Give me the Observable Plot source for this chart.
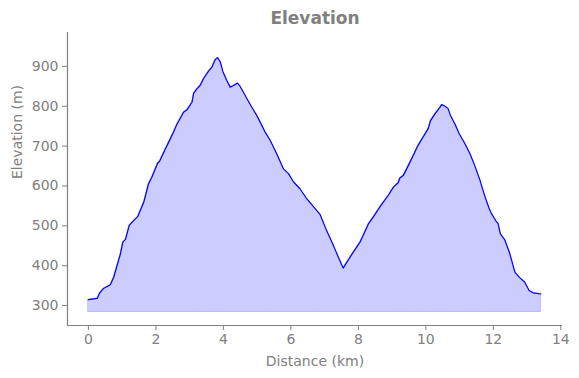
<!DOCTYPE html>
<html>
<head>
<meta charset="utf-8">
<script src="https://cdn.jsdelivr.net/npm/d3@7"></script>
<script src="https://cdn.jsdelivr.net/npm/@observablehq/plot@0.6"></script>
<style>
  html, body { margin: 0; padding: 0; background: #fff; }
  #chart svg { display: block; }
</style>
</head>
<body>
<div id="chart"></div>
<script>
const titleText = "Elevation";
const xLabel = "Distance (km)";
const yLabel = "Elevation (m)";
const xTicks = [0, 2, 4, 6, 8, 10, 12, 14];
const yTicks = [300, 400, 500, 600, 700, 800, 900];
const baseline = 284;

const distanceKm = [
  0, 0.26, 0.33, 0.45, 0.65, 0.75, 0.95, 1.02, 1.1, 1.21, 1.34, 1.46, 1.64, 1.78, 1.88,
  2.05, 2.11, 2.28, 2.38, 2.52, 2.62, 2.82, 2.92, 3.07, 3.12, 3.22, 3.31, 3.41, 3.56, 3.66,
  3.76, 3.83, 3.91, 3.99, 4.1, 4.2, 4.3, 4.42, 4.48, 4.55, 4.7, 4.84, 4.99, 5.07, 5.24,
  5.39, 5.58, 5.78, 5.93, 6.08, 6.27, 6.47, 6.72, 6.87, 7.06, 7.26, 7.41, 7.55, 7.66, 7.85,
  8.05, 8.3, 8.44, 8.66, 8.9, 9.04, 9.18, 9.23, 9.33, 9.48, 9.63, 9.77, 9.92, 10.07, 10.14,
  10.27, 10.4, 10.47, 10.57, 10.66, 10.73, 10.86, 10.99, 11.16, 11.31, 11.45, 11.6, 11.75, 11.88, 11.95,
  12.08, 12.14, 12.21, 12.34, 12.49, 12.64, 12.78, 12.93, 13.06, 13.18, 13.41
];
const elevationM = [
  315, 318, 331, 343, 352, 371, 430, 459, 466, 501, 513, 523, 559, 605, 622,
  657, 662, 693, 710, 735, 754, 785, 791, 810, 833, 844, 852, 869, 888, 898,
  917, 922, 911, 886, 865, 848, 852, 858, 852, 842, 819, 798, 777, 764, 735,
  714, 681, 643, 631, 610, 593, 568, 543, 528, 488, 451, 421, 394, 409, 434,
  459, 505, 522, 550, 578, 597, 608, 620, 626, 651, 677, 702, 723, 744, 764,
  781, 795, 804, 800, 794, 777, 756, 731, 706, 681, 651, 616, 574, 543, 530,
  512, 506, 480, 465, 430, 384, 370, 359, 338, 332, 329
];

const data = distanceKm.map((d, i) => ({ d, e: elevationM[i] }));
const gray = "#808080";
const font = "DejaVu Sans, sans-serif";

const chart = Plot.plot({
  width: 579,
  height: 378,
  marginLeft: 67,
  marginRight: 17,
  marginTop: 32,
  marginBottom: 53,
  style: { fontFamily: font, fontSize: "14px", color: gray, background: "#fff" },
  x: { domain: [-0.62, 14.05] },
  y: { domain: [250, 985] },
  marks: [
    Plot.areaY(data, { x: "d", y1: baseline, y2: "e", fill: "blue", fillOpacity: 0.2, stroke: "blue", strokeOpacity: 0.2, strokeWidth: 1 }),
    Plot.lineY(data, { x: "d", y: "e", stroke: "blue", strokeWidth: 1.2 }),
    Plot.axisX({ ticks: xTicks, tickSize: 5, tickPadding: 4, stroke: gray, fill: gray, label: null, fontSize: 14 }),
    Plot.axisY({ ticks: yTicks, tickSize: 5, tickPadding: 4, stroke: gray, fill: gray, label: null, fontSize: 14 }),
    Plot.ruleX([-0.62], { stroke: gray, strokeWidth: 1.2 }),
    Plot.ruleY([250], { stroke: gray, strokeWidth: 1.2 }),
    Plot.text([titleText], { frameAnchor: "top", lineAnchor: "middle", dy: -14, fill: gray, fontSize: 17, fontWeight: "bold" }),
    Plot.text([xLabel], { frameAnchor: "bottom", lineAnchor: "middle", dy: 36, fill: gray, fontSize: 14 }),
    Plot.text([yLabel], { frameAnchor: "left", dx: -50, rotate: -90, fill: gray, fontSize: 14 })
  ]
});
document.getElementById("chart").appendChild(chart);
</script>
</body>
</html>
